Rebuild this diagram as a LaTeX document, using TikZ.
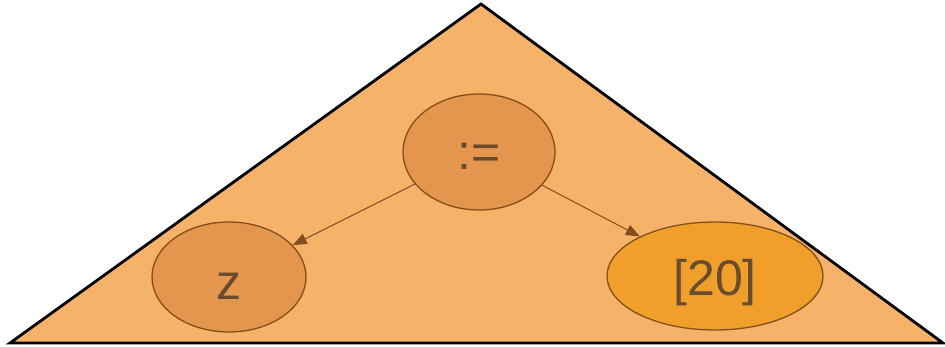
\documentclass[tikz,border=0pt]{standalone}
\usepackage{fontspec}
\setmainfont{Liberation Sans}
\usepackage{xcolor}
\definecolor{treefill}{RGB}{246, 178, 104}
\definecolor{opfill}{RGB}{229, 150, 78}
\definecolor{valfill}{RGB}{240, 160, 42}
\definecolor{edgebrown}{RGB}{130, 78, 28}
\definecolor{labelbrown}{RGB}{105, 75, 45}
\usetikzlibrary{shapes.geometric,arrows.meta}
\tikzset{every node/.style={ellipse,draw=edgebrown,line width=1.3pt,inner sep=0pt,text=labelbrown,font=\fontsize{50}{60}\selectfont}}
\newcommand{\lowered}[2]{\raisebox{-#1pt}[\height][\depth]{#2}}

\begin{document}
\begin{tikzpicture}[x=1pt,y=-1pt]
\useasboundingbox (0,0) rectangle (945,347);
\coordinate (top) at (481,4);
\coordinate (bl) at (10,343);
\coordinate (br) at (943,343);
\filldraw[fill=treefill,draw=black,line width=2.8pt,line join=miter] (top) -- (bl) -- (br) -- cycle;
\node[fill=opfill,minimum width=152pt,minimum height=116pt] (assign) at (479,152) {\lowered{4}{:=}};
\node[fill=opfill,minimum width=154pt,minimum height=110pt] (lhs) at (229,277) {\lowered{9}{z}};
\node[fill=valfill,minimum width=216pt,minimum height=108pt] (rhs) at (715,276) {\lowered{7}{[20]}};
\draw[edgebrown,line width=1pt,-{Triangle[length=14pt,width=11pt]}] (assign) -- (lhs);
\draw[edgebrown,line width=1pt,-{Triangle[length=14pt,width=11pt]}] (assign) -- (rhs);
\end{tikzpicture}
\end{document}
